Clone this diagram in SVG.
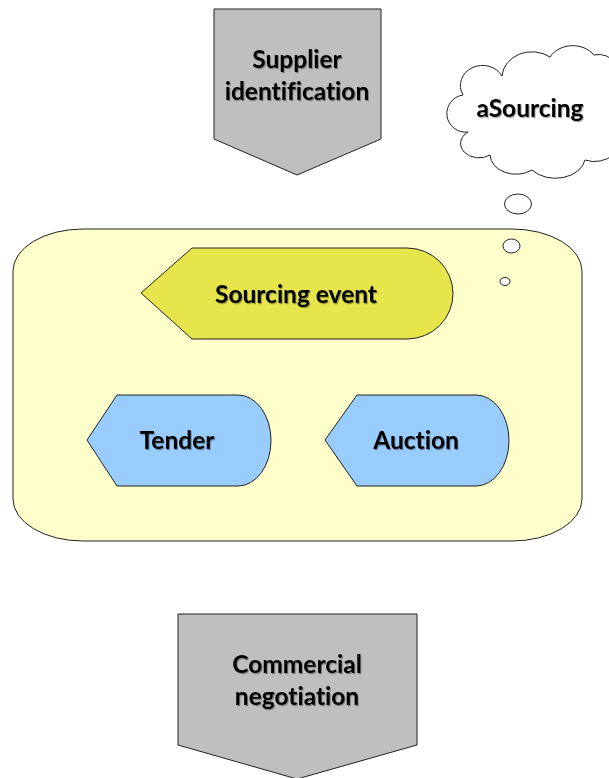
<svg xmlns="http://www.w3.org/2000/svg" width="609" height="778" viewBox="0 0 609 778">
<defs>
<filter id="sh" x="-10%" y="-20%" width="120%" height="150%">
<feDropShadow dx="1" dy="1.2" stdDeviation="0.4" flood-color="#000" flood-opacity="0.35"/>
</filter>
</defs>
<style>
.s{stroke:#222;stroke-width:1}
.t{font-family:Lato,"Open Sans",sans-serif;font-weight:bold;font-size:24.5px;fill:#000;text-anchor:middle;font-variant-ligatures:none;filter:url(#sh)}
.gray{fill:#bfbfbf}
.blue{fill:#99ccff}
</style>
<g id="supplier-identification">
<path class="s gray" d="M214,9 H381 V139 L297,175 L214,139 Z"/>
<text class="t" x="297" y="68">Supplier</text>
<text class="t" x="297" y="100">identification</text>
</g>
<g id="sourcing-container">
<rect class="s" x="13" y="229" width="569" height="312" rx="70" ry="42" fill="#ffffcc"/>
</g>
<g id="thought-bubble">
<ellipse class="s" cx="518" cy="204" rx="13.5" ry="10" fill="#fff"/>
<ellipse class="s" cx="511.5" cy="246" rx="8.5" ry="7" fill="#fff"/>
<ellipse class="s" cx="505" cy="281.5" rx="5" ry="4" fill="#fff"/>
<path class="s" fill="#fff" d="M468,132 A18,18 0 0 1 463,95 A22,20 0 0 1 502,76 A30,26 0 0 1 550,57 A26,22 0 0 1 594,55 A22,24 0 0 1 618,90 L618,130 A26,22 0 0 1 585,160 A30,22 0 0 1 532,170 A26,20 0 0 1 490,155 A18,14 0 0 1 468,132 Z"/>
<text class="t" x="530" y="117">aSourcing</text>
</g>
<g id="sourcing-event">
<path class="s" fill="#e6e64c" d="M141,293 L192,248 H407 A46,45.5 0 0 1 407,339 H192 Z"/>
<text class="t" x="296" y="303">Sourcing event</text>
</g>
<g id="tender">
<path class="s blue" d="M87,440 L117,395 H238 A33,45.5 0 0 1 238,486 H117 Z"/>
<text class="t" x="177" y="449">Tender</text>
</g>
<g id="auction">
<path class="s blue" d="M325,440 L357,395 H476 A33,45.5 0 0 1 476,486 H357 Z"/>
<text class="t" x="416" y="449">Auction</text>
</g>
<g id="commercial-negotiation">
<path class="s gray" d="M178,614 H417 V745 L297,779 L178,745 Z"/>
<text class="t" x="297" y="673">Commercial</text>
<text class="t" x="297" y="705">negotiation</text>
</g>
<g id="connectors"></g>
</svg>
